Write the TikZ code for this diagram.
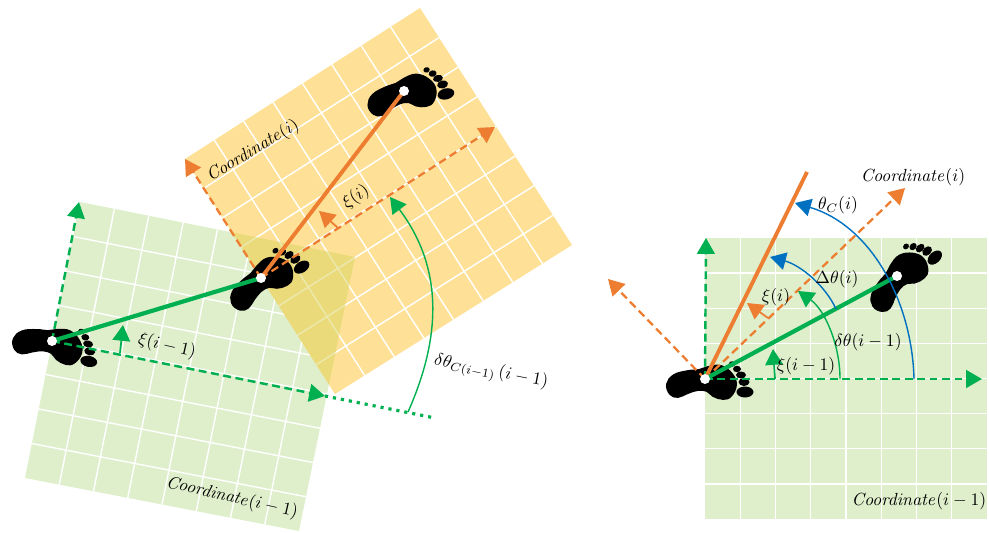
\documentclass[tikz,border=0pt]{standalone}
\usepackage{xcolor}
\usepackage{amsmath}
\usetikzlibrary{calc,arrows.meta}

\definecolor{stepgreen}{HTML}{00B050}
\definecolor{steporange}{HTML}{ED7D31}
\definecolor{stepblue}{HTML}{0070C0}
\definecolor{greenfill}{HTML}{DFEFCB}
\definecolor{orangefill}{HTML}{FEE196}
\definecolor{overlapfill}{HTML}{D9D45F}

\tikzset{
  gridline/.style={white, line width=0.8pt},
  bigtip/.style={-{Triangle[width=10pt,length=9pt]}},
  axisgreen/.style={stepgreen, line width=1.4pt, dash pattern=on 4.5pt off 2.6pt, bigtip},
  axisorange/.style={steporange, line width=1.3pt, dash pattern=on 4.5pt off 2.6pt, bigtip},
  walkgreen/.style={stepgreen, line width=2.4pt},
  walkorange/.style={steporange, line width=2.2pt},
  arcgreen/.style={stepgreen, line width=0.8pt, bigtip},
  arcblue/.style={stepblue, line width=0.8pt, bigtip},
  label/.style={inner sep=0pt, font=\normalsize}
}

% one foot, dot at the origin, pixels with y going down
\newcommand{\footmark}[2]{%
  \begin{scope}[shift={(#1)},rotate=#2]
    \filldraw[black, line width=1pt, line join=round] plot[smooth cycle, tension=0.7] coordinates {(-38,5) (-31,-4) (-17,-8) (-6,-9) (3,-12)
      (16,-13) (27,-5) (31,6) (26,17) (18,20) (8,17) (2,12) (-7,11) (-17,14) (-27,18) (-35,15)};
    \fill[black] (40,13) ellipse [x radius=8.5,y radius=5.5];
    \fill[black] (39,3) ellipse [x radius=5.5,y radius=4];
    \fill[black] (36,-4) ellipse [x radius=5,y radius=3.5];
    \fill[black] (32,-10) ellipse [x radius=4,y radius=3.2];
    \fill[black] (27,-15) ellipse [x radius=3.2,y radius=2.7];
  \end{scope}}
\newcommand{\footdot}[1]{\fill[white] (#1) circle [radius=5];}
% 8 x 8 cells between four corners
\newcommand{\cellgrid}[4]{%
  \foreach \t in {1,...,7} {
    \draw[gridline] ($(#1)!\t/8!(#2)$) -- ($(#4)!\t/8!(#3)$);
    \draw[gridline] ($(#1)!\t/8!(#4)$) -- ($(#2)!\t/8!(#3)$);
  }}

\begin{document}
\begin{tikzpicture}[x=0.02cm,y=-0.02cm]
  \useasboundingbox (0,0) rectangle (989,533);

  %--- Left: the two squares ---
  \coordinate (gA) at (80,202);
  \coordinate (gB) at (355,257);
  \coordinate (gC) at (299,531);
  \coordinate (gD) at (25,478);
  \coordinate (oA) at (185,159);
  \coordinate (oB) at (420,8);
  \coordinate (oC) at (572,245);
  \coordinate (oD) at (335,394);

  \fill[greenfill] (gA) -- (gB) -- (gC) -- (gD) -- cycle;
  \cellgrid{gA}{gB}{gC}{gD}
  \fill[orangefill] (oA) -- (oB) -- (oC) -- (oD) -- cycle;
  \cellgrid{oA}{oB}{oC}{oD}
  \begin{scope}
    \clip (gA) -- (gB) -- (gC) -- (gD) -- cycle;
    \fill[overlapfill, opacity=0.5] (oA) -- (oB) -- (oC) -- (oD) -- cycle;
  \end{scope}

  %--- Left: feet ---
  \coordinate (stepA) at (52,341);
  \coordinate (stepB) at (261,278);
  \coordinate (stepC) at (404,91);
  \footmark{stepA}{-11}
  \footmark{stepB}{33}
  \footmark{stepC}{14}

  %--- Left: axes and walk ---
  \coordinate (upA) at (79,202);
  \coordinate (rightA) at (325,396);
  \coordinate (dotEnd) at (435,418);
  \coordinate (upB) at (185,159);
  \coordinate (rightB) at (495,127);
  \draw[axisgreen] (stepA) -- (upA);
  \draw[axisgreen] (stepA) -- (rightA);
  \draw[stepgreen, line width=1.8pt, dash pattern=on 1.8pt off 2.8pt] (rightA) -- (dotEnd);
  \draw[axisorange] (stepB) -- (upB);
  \draw[axisorange] (stepB) -- (rightB);
  \draw[walkgreen] (stepA) -- (stepB);
  \draw[walkorange] (stepB) -- (stepC);
  \footdot{stepA}
  \footdot{stepB}
  \footdot{stepC}

  % small angle arrows
  \coordinate (xiAfoot) at (120,353);
  \coordinate (xiAtip) at (123,325);
  \draw[stepgreen, line width=1pt, bigtip] (xiAfoot) -- (xiAtip);
  \coordinate (xiBfoot) at (338,228);
  \coordinate (xiBtip) at (319,211);
  \draw[steporange, line width=1pt, bigtip] (xiBfoot) -- (xiBtip);
  \coordinate (arcfoot) at (408,412);
  \coordinate (arctip) at (390,197);
  \draw[arcgreen] (arcfoot) .. controls (440,340) and (445,270) .. (arctip);

  % labels
  \node[label, rotate=-13] (xiAtext) at (167,346) {$\xi(i-1)$};
  \node[label, rotate=33] (xiBtext) at (356,197) {$\xi(i)$};
  \node[label, rotate=-11] (deltaLtext) at (491,372) {$\delta\theta_{C(i-1)}\,(i-1)$};
  \node[label, rotate=-13] (coordAtext) at (232,498) {$\mathit{Coordinate}(i-1)$};
  \node[label, rotate=31] (coordBtext) at (253,151) {$\mathit{Coordinate}(i)$};

  %--- Right: square ---
  \coordinate (hA) at (705,238);
  \coordinate (hB) at (987,238);
  \coordinate (hC) at (987,519);
  \coordinate (hD) at (705,519);
  \fill[greenfill] (hA) -- (hB) -- (hC) -- (hD) -- cycle;
  \cellgrid{hA}{hB}{hC}{hD}

  %--- Right: feet ---
  \coordinate (stepR) at (705,379);
  \coordinate (stepS) at (897,276);
  \footmark{stepR}{0}
  \footmark{stepS}{44}

  %--- Right: axes and walk ---
  \coordinate (upR) at (706,238);
  \coordinate (rightR) at (982,379);
  \coordinate (upO) at (608,279);
  \coordinate (rightO) at (905,188);
  \coordinate (walkEnd) at (807,172);
  \draw[axisgreen] (stepR) -- (upR);
  \draw[axisgreen] (stepR) -- (rightR);
  \draw[axisorange] (stepR) -- (upO);
  \draw[axisorange] (stepR) -- (rightO);
  \draw[walkorange] (stepR) -- (walkEnd);
  \draw[walkgreen] (stepR) -- (stepS);
  \footdot{stepR}
  \footdot{stepS}

  % small angle arrows
  \coordinate (xiRfoot) at (775,379);
  \coordinate (xiRtip) at (773,349);
  \draw[stepgreen, line width=1pt, bigtip] (xiRfoot) -- (xiRtip);
  \coordinate (xiOfoot) at (768,318);
  \coordinate (xiOtip) at (747,303);
  \draw[steporange, line width=1pt, bigtip] (xiOfoot) -- (xiOtip);

  % big arcs
  \coordinate (thetaFoot) at (914,379);
  \coordinate (thetaTip) at (795,203);
  \draw[arcblue] (thetaFoot) .. controls (912,300) and (870,225) .. (thetaTip);
  \coordinate (deltaFoot) at (836,309);
  \coordinate (deltaTip) at (770,257);
  \draw[arcblue] (deltaFoot) .. controls (825,285) and (800,265) .. (deltaTip);
  \coordinate (smallFoot) at (840,379);
  \coordinate (smallTip) at (798,291);
  \draw[arcgreen] (smallFoot) .. controls (840,345) and (825,310) .. (smallTip);

  % labels
  \node[label] (xiRtext) at (806,366) {$\xi(i-1)$};
  \node[label] (xiOtext) at (776,297) {$\xi(i)$};
  \node[label] (thetaText) at (838,205) {$\theta_C(i)$};
  \node[label] (deltaText) at (837,279) {$\Delta\theta(i)$};
  \node[label] (smallText) at (868,342) {$\delta\theta(i-1)$};
  \node[label] (coordOtext) at (913,177) {$\mathit{Coordinate}(i)$};
  \node[label] (coordRtext) at (919,501) {$\mathit{Coordinate}(i-1)$};

\end{tikzpicture}
\end{document}
